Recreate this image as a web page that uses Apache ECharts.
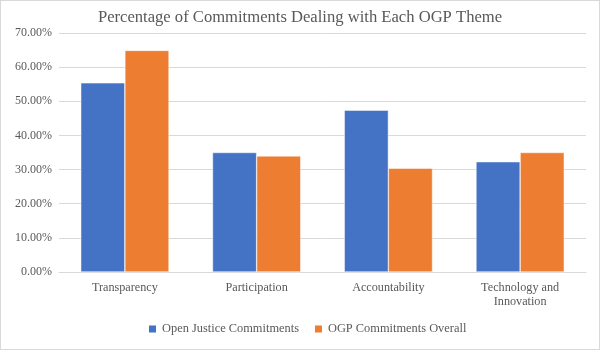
<!DOCTYPE html>
<html>
<head>
<meta charset="utf-8">
<script src="https://cdn.jsdelivr.net/npm/echarts@6/dist/echarts.min.js"></script>
<style>
html,body{margin:0;padding:0;background:#fff;}
#c{width:598px;height:348px;border:1px solid #d9d9d9;}
</style>
</head>
<body>
<div id="c"></div>
<script>
var categories = ["Transparency", "Participation", "Accountability", "Technology and\nInnovation"];
var openJustice = [55.4, 35.0, 47.4, 32.3];
var ogpOverall = [64.9, 34.0, 30.4, 35.0];
var seriesNames = ["Open Justice Commitments", "OGP Commitments Overall"];

var chart = echarts.init(document.getElementById('c'));
var font = "'Liberation Serif', 'Times New Roman', serif";
chart.setOption({
  animation: false,
  title: {
    text: "Percentage of Commitments Dealing with Each OGP Theme",
    left: 'center', top: 3,
    textStyle: {fontFamily: font, fontSize: 16.6, fontWeight: 'normal', color: '#595959'}
  },
  legend: {
    bottom: 9, left: 141,
    itemWidth: 9, itemHeight: 9, itemGap: 14,
    icon: 'rect',
    textStyle: {fontFamily: font, fontSize: 12.4, color: '#595959'},
    data: seriesNames
  },
  grid: {left: 58, right: 13, top: 32, bottom: 77},
  xAxis: {
    type: 'category', data: categories,
    axisLine: {lineStyle: {color: '#d9d9d9'}},
    axisTick: {show: false},
    axisLabel: {fontFamily: font, fontSize: 12.2, color: '#595959', margin: 9, lineHeight: 14}
  },
  yAxis: {
    type: 'value', min: 0, max: 70, interval: 10,
    axisLine: {show: false}, axisTick: {show: false},
    splitLine: {lineStyle: {color: '#d9d9d9'}},
    axisLabel: {fontFamily: font, fontSize: 12, color: '#595959', margin: 7,
      formatter: function(v){ return v.toFixed(2) + '%'; }}
  },
  series: [
    {name: seriesNames[0], type: 'bar', data: openJustice, barGap: '0%', barCategoryGap: '33%',
     itemStyle: {color: '#4472c4', borderColor: '#ffffff', borderWidth: 0.5}},
    {name: seriesNames[1], type: 'bar', data: ogpOverall,
     itemStyle: {color: '#ed7d31', borderColor: '#ffffff', borderWidth: 0.5}}
  ]
});
</script>
</body>
</html>
